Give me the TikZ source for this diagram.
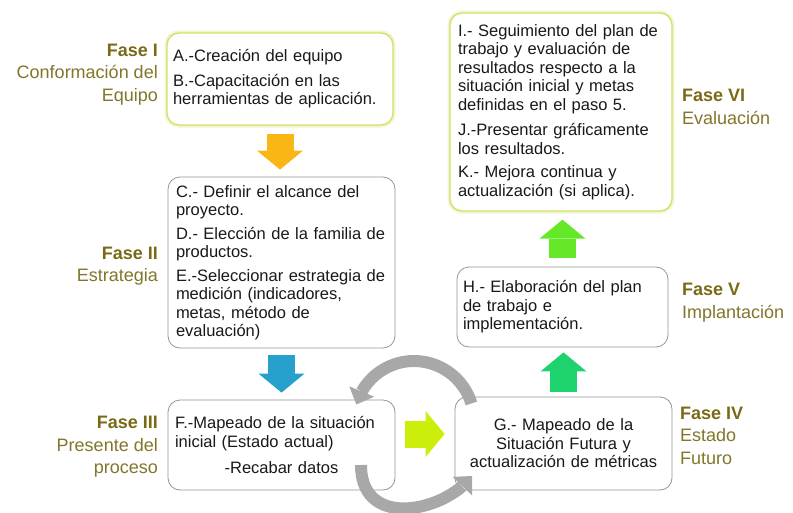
\documentclass[tikz,border=0pt]{standalone}
\usepackage{fontspec}
\setmainfont{Liberation Sans}
\usetikzlibrary{arrows.meta,bending}
\definecolor{boxgray}{RGB}{150,150,150}
\definecolor{boxyel}{RGB}{212,222,105}
\definecolor{glow}{RGB}{242,245,205}
\definecolor{orangeA}{RGB}{250,182,20}
\definecolor{blueA}{RGB}{40,160,205}
\definecolor{limeA}{RGB}{205,238,10}
\definecolor{tealA}{RGB}{30,210,110}
\definecolor{greenA}{RGB}{100,232,40}
\definecolor{arcgray}{RGB}{168,168,168}
\definecolor{fasebold}{RGB}{122,106,22}
\definecolor{fasetxt}{RGB}{130,118,42}
\definecolor{txt}{RGB}{25,25,25}
\begin{document}
\begin{tikzpicture}[x=1pt,y=1pt,
  box/.style={draw=boxgray, line width=0.8pt, rounded corners=12pt, fill=white,
    align=left, inner sep=0pt, text=txt, font=\fontsize{16.5}{18.5}\selectfont},
  yelbox/.style={box, draw=boxyel, line width=1.3pt,
    preaction={draw=glow, line width=5pt}},
  faselbl/.style={inner sep=0pt, text=fasetxt, font=\fontsize{18}{22.5}\selectfont},
  blockarr/.style={line width=27pt, -{Triangle[length=19pt, width=46pt, line width=0pt]}},
  arcst/.style={draw=arcgray, line width=12pt, -{Triangle[length=14pt, width=27pt, line width=0pt]}}
]
\useasboundingbox[fill=white] (0,0) rectangle (793,-512);

% boxes
\node[yelbox, minimum width=226, minimum height=92, text width=214] (a) at (280,-79)
  {A.-Creación del equipo\\[6pt]B.-Capacitación en las\\herramientas de aplicación.};
\node[box, minimum width=227, minimum height=171, text width=211] (c) at (281.5,-262.5)
  {C.- Definir el alcance del\\proyecto.\\[5pt]D.- Elección de la familia de\\productos.\\[5pt]E.-Seleccionar estrategia de\\medición (indicadores,\\metas, método de\\evaluación)};
\node[box, minimum width=227, minimum height=90, text width=213] (f) at (281.5,-445)
  {F.-Mapeado de la situación\\inicial (Estado actual)\\[8pt]\hspace*{\fill}-Recabar datos\hspace*{\fill}};
\node[box, minimum width=217, minimum height=93, text width=205, align=center] (g) at (563.5,-443.5)
  {G.- Mapeado de la\\Situación Futura y\\actualización de métricas};
\node[box, minimum width=211, minimum height=80, text width=199] (h) at (562.5,-307)
  {H.- Elaboración del plan\\de trabajo e\\implementación.};
\node[yelbox, minimum width=222, minimum height=198, text width=206] (i) at (561,-112)
  {I.- Seguimiento del plan de\\trabajo y evaluación de\\resultados respecto a la\\situación inicial y metas\\definidas en el paso 5.\\[7pt]J.-Presentar gráficamente\\los resultados.\\[5pt]K.- Mejora continua y\\actualización (si aplica).};

% phase labels
\node[faselbl, anchor=east, align=right] (l1) at (158,-74.5)
  {{\color{fasebold}\bfseries Fase I}\\Conformación del\\Equipo};
\node[faselbl, anchor=east, align=right] (l2) at (158,-266)
  {{\color{fasebold}\bfseries Fase II}\\Estrategia};
\node[faselbl, anchor=east, align=right] (l3) at (158,-447)
  {{\color{fasebold}\bfseries Fase III}\\Presente del\\proceso};
\node[faselbl, anchor=west, align=left] (l4) at (680,-435.5)
  {{\color{fasebold}\bfseries Fase IV}\\Estado\\Futuro};
\node[faselbl, anchor=west, align=left] (l5) at (682,-302.5)
  {{\color{fasebold}\bfseries Fase V}\\Implantación};
\node[faselbl, anchor=west, align=left] (l6) at (682,-107)
  {{\color{fasebold}\bfseries Fase VI}\\Evaluación};

% circular gray arrows
\coordinate (tc) at (414,-421);
\draw[arcst] ([shift={(17:60)}]tc) arc[start angle=17, end angle=164, radius=60];
\coordinate (b0) at (361,-465);
\coordinate (b1) at (472,-476);
\draw[arcst] (b0) .. controls (361,-530) and (445,-512) .. (b1);

% block arrows
\coordinate (ly) at (0,-434);
\draw[blockarr, draw=orangeA, fill=orangeA] ([yshift=-8pt]a.south) -- ([yshift=7pt]a.south |- c.north);
\draw[blockarr, draw=blueA, fill=blueA] ([yshift=-7pt]c.south) -- ([yshift=7pt]c.south |- f.north);
\draw[blockarr, draw=limeA, fill=limeA] ([xshift=10pt]f.east |- ly) -- ([xshift=-10pt]g.west |- ly);
\draw[blockarr, draw=tealA, fill=tealA] ([yshift=5pt]g.north) -- ([yshift=-5pt]g.north |- h.south);
\draw[blockarr, draw=greenA, fill=greenA] ([yshift=9pt]h.north) -- ([yshift=-8pt]h.north |- i.south);
\end{tikzpicture}
\end{document}
